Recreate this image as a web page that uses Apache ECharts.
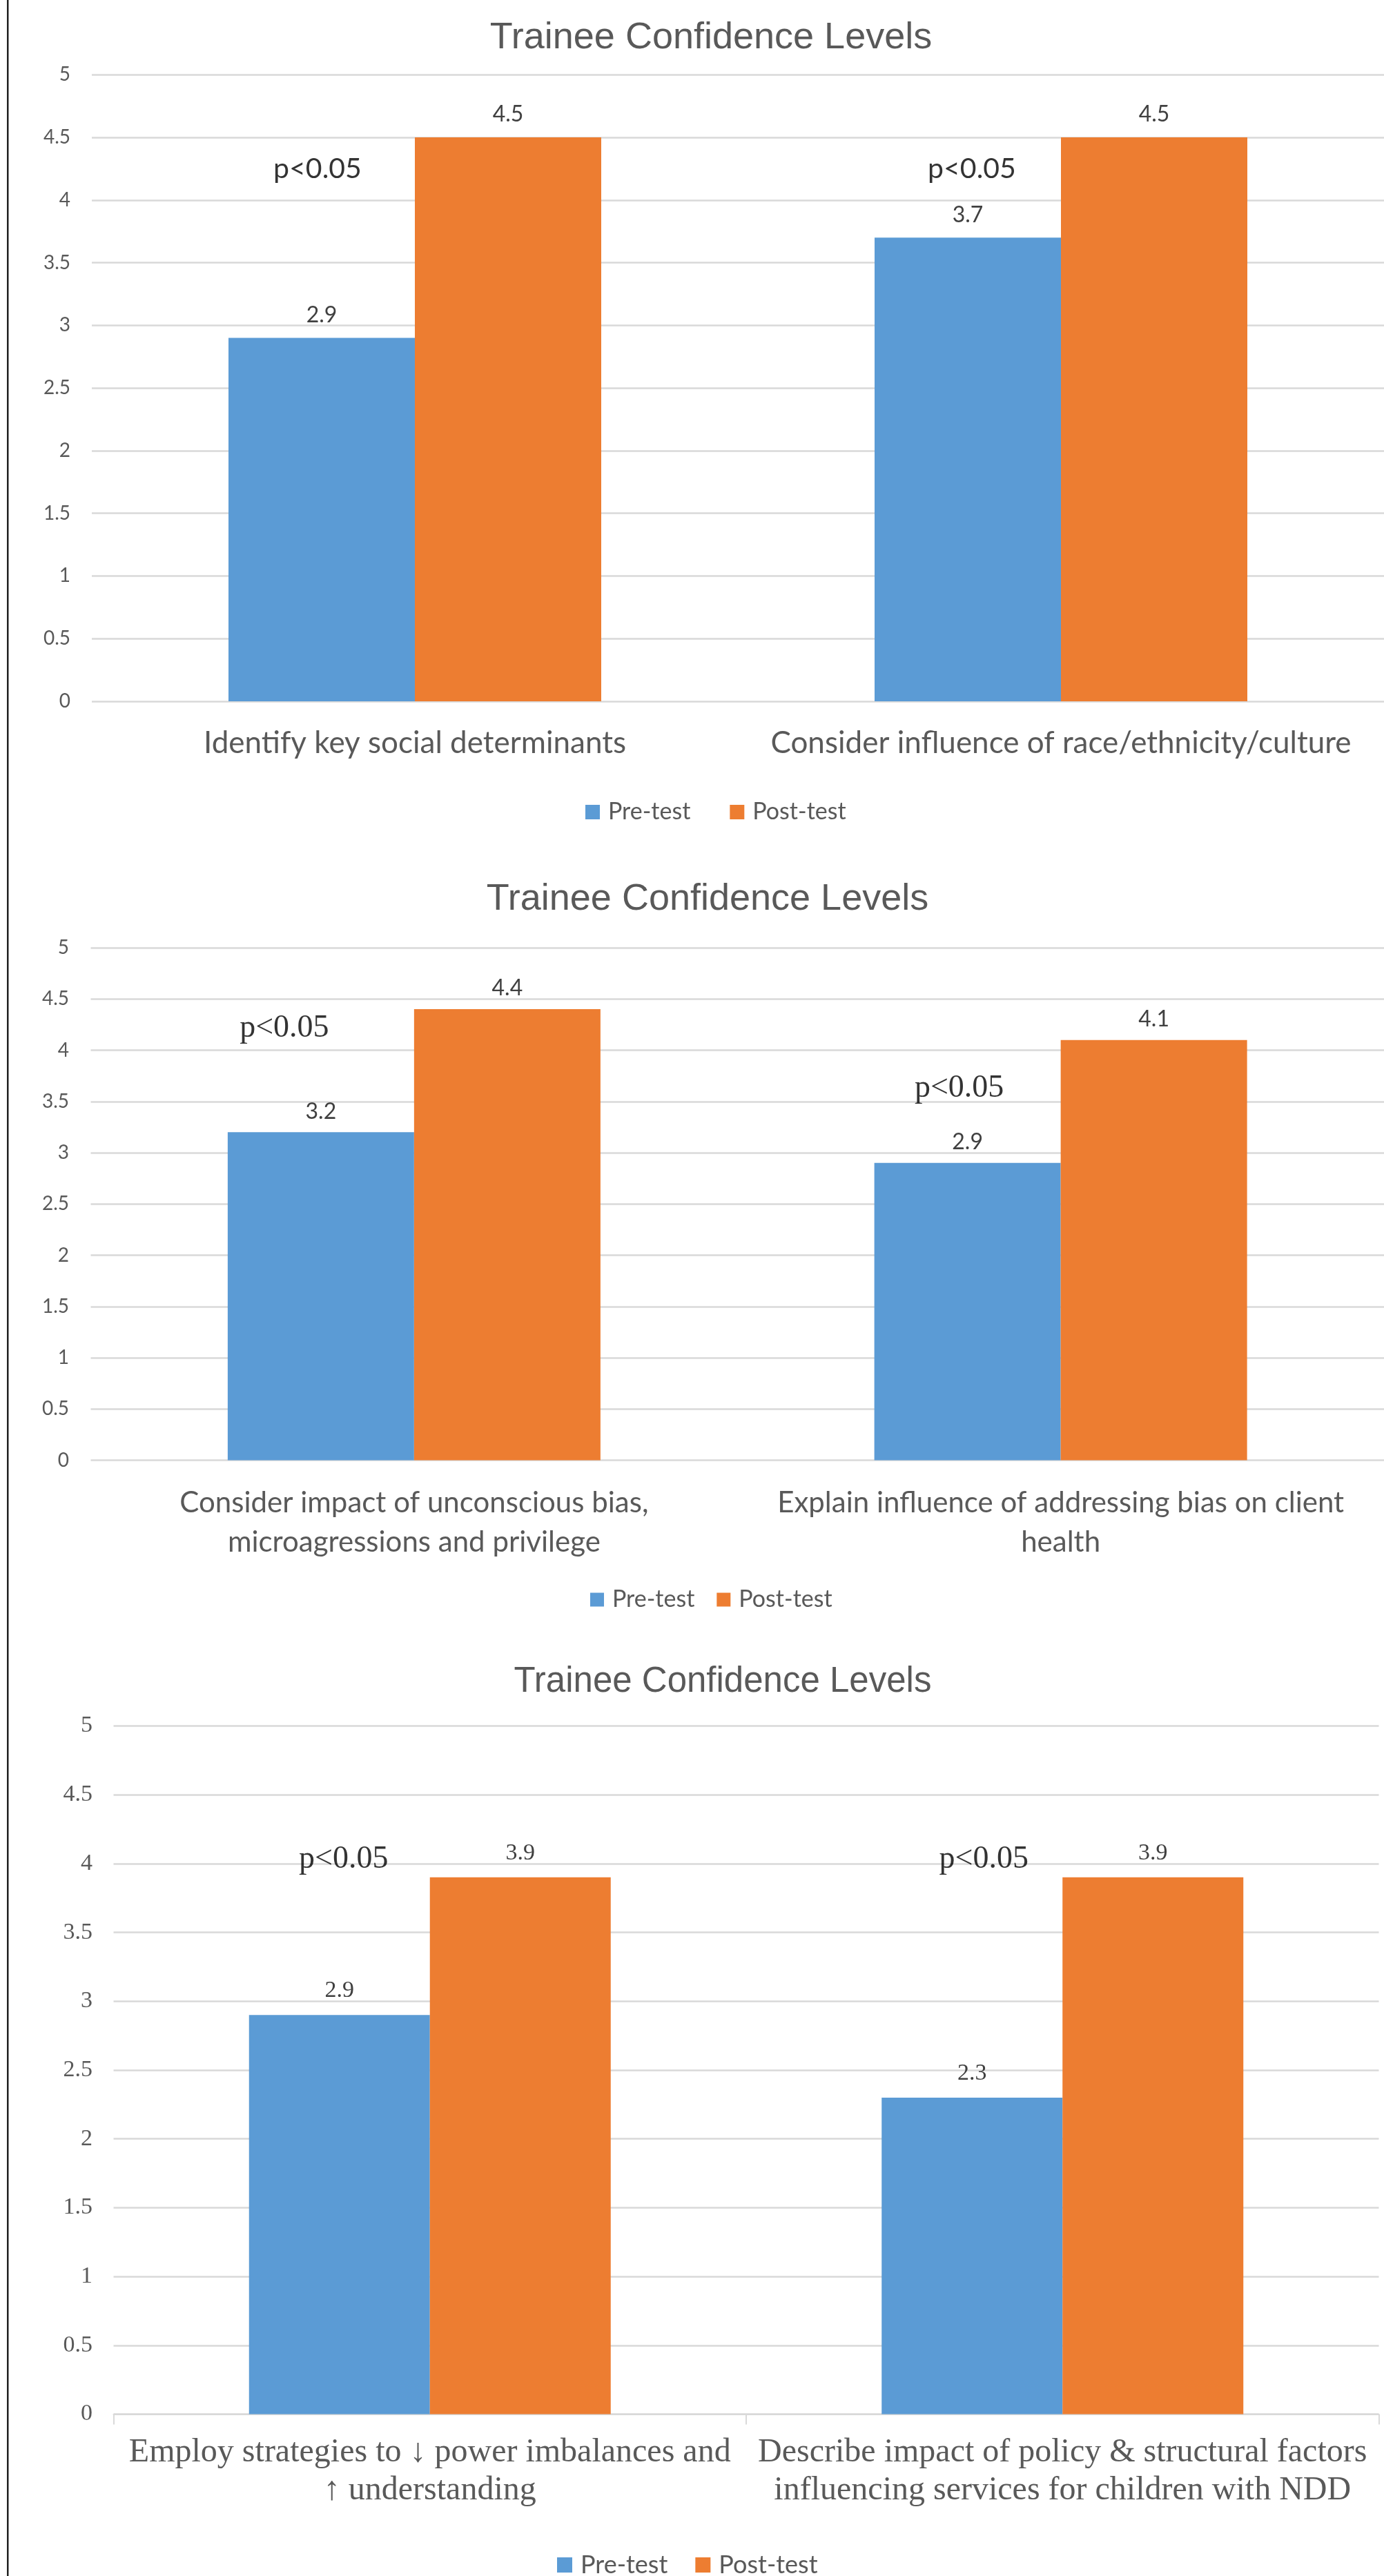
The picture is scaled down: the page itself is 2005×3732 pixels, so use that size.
<!DOCTYPE html>
<html>
<head>
<meta charset="utf-8">
<script src="https://cdn.jsdelivr.net/npm/echarts@6/dist/echarts.min.js"></script>
<style>html,body{margin:0;padding:0;background:#fff}#c{width:2005px;height:3732px}</style>
</head>
<body>
<div id="c"></div>
<script>
// ---------- data ----------
const seriesNames = ['Pre-test', 'Post-test'];
const chartTitle = 'Trainee Confidence Levels';
const yMin = 0, yMax = 5, yStep = 0.5;

const cats1 = ['Identify key social determinants', 'Consider influence of race/ethnicity/culture'];
const pre1 = [2.9, 3.7];
const post1 = [4.5, 4.5];

const cats2 = ['Consider impact of unconscious bias,\nmicroagressions and privilege', 'Explain influence of addressing bias on client\nhealth'];
const pre2 = [3.2, 2.9];
const post2 = [4.4, 4.1];

const cats3 = ['Employ strategies to \u2193 power imbalances and\n\u2191 understanding', 'Describe impact of policy & structural factors\ninfluencing services for children with NDD'];
const pre3 = [2.9, 2.3];
const post3 = [3.9, 3.9];

const pText = 'p<0.05';
const pY1 = [4.25, 4.25];
const pY2 = [4.21, 3.63];
const pY3 = [4.03, 4.03];

// ---------- styles / layout ----------
const BLUE = '#5B9BD5', ORANGE = '#ED7D31', GRID = '#D9D9D9', TXT = '#595959';
const SANS = 'Lato', TITLEF = 'Liberation Sans', SERIF = 'Liberation Serif';

const panels = [
  { cats: cats1, pre: pre1, post: post1, pY: pY1,
    title: { left: 1030, top: 28, size: 54 },
    grid: { left: 133, top: 108.3, width: 1886, height: 907.7 },
    barWidth: 270, yFont: SANS, ySize: 28, yMargin: 31,
    xFont: SANS, xSize: 44, xLine: 44, xMargin: 38.7, xAxisLine: false,
    dFont: SANS, dSize: 32, dDist: 17, dColor: '#404040',
    pFont: SANS, pSize: 41, pOff: [-141, -129],
    legend: { left: 848, top: 1159.5, icon: 21, size: 34, gap: 57, lh: 34 } },
  { cats: cats2, pre: pre2, post: post2, pY: pY2,
    title: { left: 1025, top: 1276, size: 54 },
    grid: { left: 131.5, top: 1373, width: 1886, height: 742.5 },
    barWidth: 270, yFont: SANS, ySize: 28, yMargin: 31.5,
    xFont: SANS, xSize: 42, xLine: 57, xMargin: 33, xAxisLine: false,
    dFont: SANS, dSize: 32, dDist: 14, dColor: '#404040',
    pFont: SERIF, pSize: 46, pOff: [-188, -147],
    legend: { left: 855, top: 2300.5, icon: 20, size: 34, gap: 32, lh: 34 } },
  { cats: cats3, pre: pre3, post: post3, pY: pY3,
    title: { left: 1047, top: 2411, size: 51 },
    grid: { left: 164.5, top: 2500.5, width: 1833, height: 997 },
    barWidth: 262, yFont: SERIF, ySize: 34, yMargin: 30.5,
    xFont: SERIF, xSize: 48, xLine: 55, xMargin: 28.5, xAxisLine: true,
    dFont: SERIF, dSize: 34, dDist: 18, dColor: '#404040',
    pFont: SERIF, pSize: 46, pOff: [-125, -114],
    legend: { left: 807, top: 3698, icon: 22, size: 36, gap: 40, lh: 36 } }
];

const option = {
  animation: false,
  backgroundColor: '#ffffff',
  title: [], grid: [], xAxis: [], yAxis: [], legend: [], series: [],
  graphic: [{ type: 'rect', shape: { x: 10, y: 0, width: 2.5, height: 3732 }, style: { fill: '#222' }, silent: true }]
};

panels.forEach((p, i) => {
  option.title.push({
    text: chartTitle, left: p.title.left, top: p.title.top, textAlign: 'center', padding: 0,
    textStyle: { fontFamily: TITLEF, fontSize: p.title.size, lineHeight: p.title.size, fontWeight: 'normal', color: TXT }
  });
  option.grid.push(Object.assign({ containLabel: false }, p.grid));
  option.xAxis.push({
    type: 'category', gridIndex: i, data: p.cats,
    axisLine: { show: p.xAxisLine, lineStyle: { color: GRID, width: 2 } },
    axisTick: { show: p.xAxisLine, length: 15, lineStyle: { color: GRID, width: 2 } },
    axisLabel: { interval: 0, margin: p.xMargin, fontFamily: p.xFont, fontSize: p.xSize, lineHeight: p.xLine, color: TXT, align: 'center' },
    splitLine: { show: false }
  });
  option.yAxis.push({
    type: 'value', gridIndex: i, min: yMin, max: yMax, interval: yStep,
    axisLine: { show: false }, axisTick: { show: false },
    axisLabel: { margin: p.yMargin, fontFamily: p.yFont, fontSize: p.ySize, color: TXT, formatter: v => String(v) },
    splitLine: { show: true, lineStyle: { color: GRID, width: 2.5 } }
  });
  option.legend.push({
    data: seriesNames, left: p.legend.left, top: p.legend.top, padding: 0,
    icon: 'rect', itemWidth: p.legend.icon, itemHeight: p.legend.icon, itemGap: p.legend.gap,
    selectedMode: false,
    textStyle: { fontFamily: SANS, fontSize: p.legend.size, lineHeight: p.legend.lh, color: TXT, padding: [0, 0, 0, 7] }
  });
  const dataLabel = { show: true, position: 'top', distance: p.dDist, fontFamily: p.dFont, fontSize: p.dSize, lineHeight: p.dSize, color: p.dColor };
  option.series.push({
    type: 'bar', name: seriesNames[0], xAxisIndex: i, yAxisIndex: i, data: p.pre,
    barWidth: p.barWidth, barGap: '0%', itemStyle: { color: BLUE }, label: dataLabel
  });
  option.series.push({
    type: 'bar', name: seriesNames[1], xAxisIndex: i, yAxisIndex: i, data: p.post,
    barWidth: p.barWidth, barGap: '0%', itemStyle: { color: ORANGE }, label: dataLabel
  });
  option.series.push({
    type: 'scatter', name: 'sig' + i, xAxisIndex: i, yAxisIndex: i, silent: true,
    symbolSize: 1, itemStyle: { color: 'rgba(0,0,0,0)' },
    data: p.pY.map((y, k) => ({ value: [k, y], label: { offset: [p.pOff[k], 0] } })),
    label: { show: true, position: 'inside', formatter: pText, fontFamily: p.pFont, fontSize: p.pSize, lineHeight: p.pSize, color: '#000' }
  });
});

const chart = echarts.init(document.getElementById('c'), null, { renderer: 'canvas' });
chart.setOption(option);
</script>
</body>
</html>
